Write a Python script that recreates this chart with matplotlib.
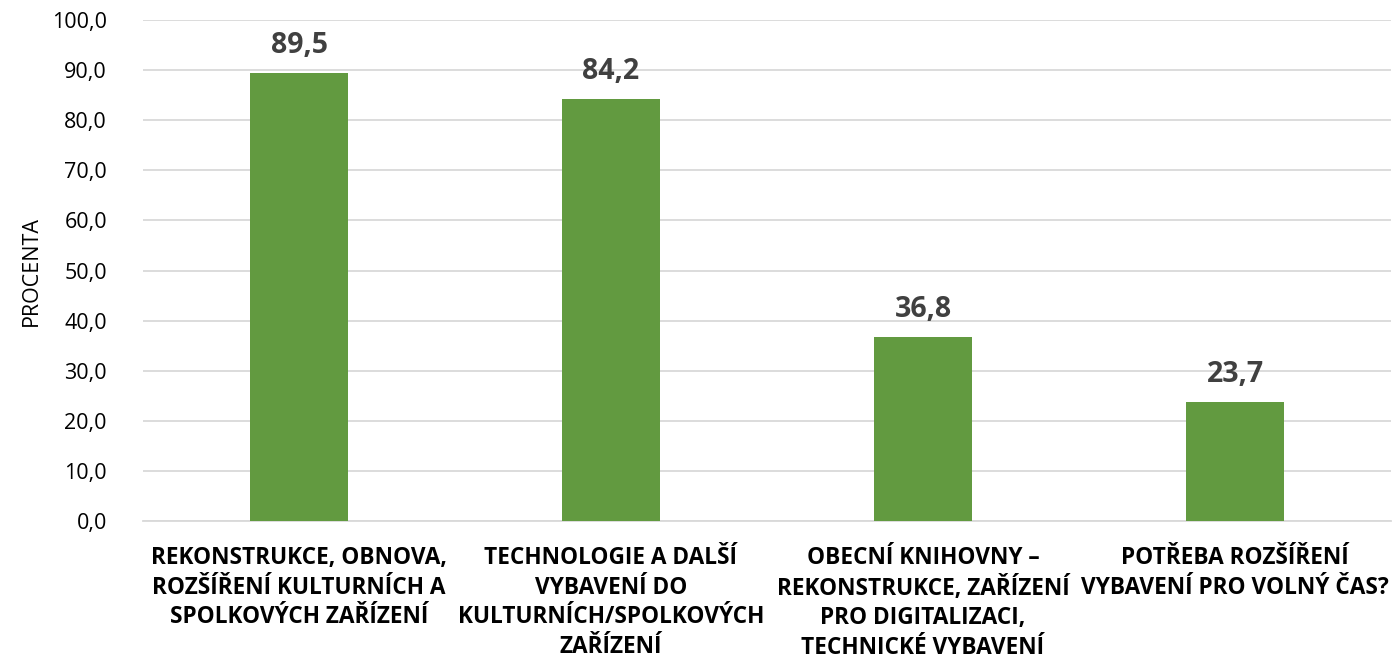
import matplotlib
matplotlib.use("Agg")
import matplotlib.pyplot as plt
from matplotlib.ticker import FuncFormatter

categories = [
    "REKONSTRUKCE, OBNOVA,\nROZŠÍŘENÍ KULTURNÍCH A\nSPOLKOVÝCH ZAŘÍZENÍ",
    "TECHNOLOGIE A DALŠÍ\nVYBAVENÍ DO\nKULTURNÍCH/SPOLKOVÝCH\nZAŘÍZENÍ",
    "OBECNÍ KNIHOVNY –\nREKONSTRUKCE, ZAŘÍZENÍ\nPRO DIGITALIZACI,\nTECHNICKÉ VYBAVENÍ",
    "POTŘEBA ROZŠÍŘENÍ\nVYBAVENÍ PRO VOLNÝ ČAS?",
]
values = [89.5, 84.2, 36.8, 23.7]
yticks = [0, 10, 20, 30, 40, 50, 60, 70, 80, 90, 100]

plt.rcParams['font.family'] = ['Open Sans', 'DejaVu Sans']

fig = plt.figure(figsize=(13.95, 6.69), dpi=100)
ax = fig.add_axes([143/1395, 148/669, (1391-143)/1395, 501/669])

x = list(range(len(values)))
bars = ax.bar(x, values, width=0.314, color="#629A40", zorder=3)
for xi, v in zip(x, values):
    ax.text(xi, v + 4.0, f"{v:.1f}".replace(".", ","), ha="center", va="baseline",
            fontsize=20.5, fontweight="bold", color="#404040")

ax.set_xlim(-0.5, 3.5)
ax.set_ylim(0, 100)
ax.set_yticks(yticks)
ax.yaxis.set_major_formatter(FuncFormatter(lambda v, p: f"{v:.1f}".replace(".", ",")))
ax.grid(axis="y", color="#D9D9D9", linewidth=1.3, zorder=0)
for s in ["top", "right", "left"]:
    ax.spines[s].set_visible(False)
ax.spines["bottom"].set_color("#D9D9D9")
ax.spines["bottom"].set_linewidth(1.3)
ax.tick_params(axis="both", length=0)
ax.tick_params(axis="y", labelsize=15.5, colors="#000000", pad=26)
ax.set_xticks(x)
ax.set_xticklabels(categories, fontsize=16.3, fontweight="bold", linespacing=1.31)
ax.tick_params(axis="x", pad=18)
ax.set_ylabel("PROCENTA", fontsize=15.5, labelpad=7)

fig.savefig("out.png", dpi=100)
